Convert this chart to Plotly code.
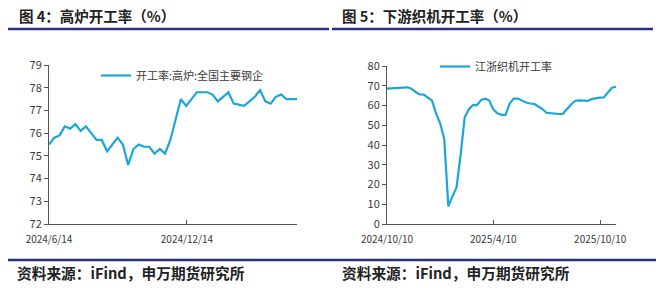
import plotly.graph_objects as go
import pandas as pd

# ---- data ----
bf_start = "2024-06-14"
bf_values = [75.5, 75.8, 75.9, 76.3, 76.2, 76.4, 76.1, 76.3, 76.0, 75.7, 75.7, 75.2,
             75.5, 75.8, 75.5, 74.6, 75.3, 75.5, 75.4, 75.4, 75.1, 75.3, 75.1, 75.7,
             76.6, 77.5, 77.2, 77.5, 77.8, 77.8, 77.8, 77.7, 77.4, 77.6, 77.8, 77.3,
             77.25, 77.2, 77.4, 77.6, 77.9, 77.4, 77.3, 77.6, 77.7, 77.5, 77.5, 77.5]
bf_ticks = ["2024-06-14", "2024-12-14"]
bf_ticktext = ["2024/6/14", "2024/12/14"]

loom_start = "2024-10-10"
loom_values = [68.5, 68.7, 68.8, 68.8, 69.2, 69.2, 68.5, 66.8, 65.6, 65.5, 64.0, 62.5,
               56.0, 51.0, 43.0, 9.0, 14.0, 18.5, 35.0, 54.0, 58.0, 60.2, 60.2, 62.8,
               63.5, 62.5, 58.0, 56.0, 55.3, 55.3, 61.0, 63.5, 63.5, 62.5, 61.5, 61.0,
               60.8, 59.5, 58.2, 56.3, 56.0, 55.7, 55.7, 55.8, 58.2, 60.5, 62.3, 62.6,
               62.5, 62.3, 63.2, 63.7, 64.0, 64.1, 66.5, 69.0, 69.5]
loom_ticks = ["2024-10-10", "2025-04-10", "2025-10-10"]
loom_ticktext = ["2024/10/10", "2025/4/10", "2025/10/10"]

bf_name = "开工率:高炉:全国主要钢企"
loom_name = "江浙织机开工率"
title_left = "图 4：高炉开工率（%）"
title_right = "图 5：下游织机开工率（%）"
source_text = "资料来源：iFind，申万期货研究所"

bf_dates = pd.date_range(bf_start, periods=len(bf_values), freq="7D")
loom_dates = pd.date_range(loom_start, periods=len(loom_values), freq="7D")

W, H = 660, 288
LINE = "#1ba6d9"
NAVY = "#25307f"
AXC = "#555555"
TXT = "#3a3a3a"
FONT = "Noto Sans CJK SC"

def px(x):
    return x / W

def py(y):
    return 1 - y / H

fig = go.Figure()
fig.add_trace(go.Scatter(x=bf_dates, y=bf_values, mode="lines", name=bf_name,
                         line=dict(color=LINE, width=2.2), xaxis="x", yaxis="y",
                         legend="legend"))
fig.add_trace(go.Scatter(x=loom_dates, y=loom_values, mode="lines", name=loom_name,
                         line=dict(color=LINE, width=2.2), xaxis="x2", yaxis="y2",
                         legend="legend2"))

axis_common = dict(showgrid=False, zeroline=False, showline=True, linecolor=AXC,
                   linewidth=1, tickcolor=AXC, ticklen=4, automargin=False)
xfont = dict(family=FONT, size=10, color=TXT)
yfont = dict(family=FONT, size=11, color=TXT)

fig.update_layout(
    width=W, height=H, margin=dict(l=0, r=0, t=0, b=0, autoexpand=False),
    paper_bgcolor="white", plot_bgcolor="white",
    font=dict(family=FONT, color=TXT),
    xaxis=dict(domain=[px(49), px(297)], anchor="y", type="date",
               range=[bf_dates[0], bf_dates[-1]], tickfont=xfont, ticklabelstandoff=6,
               tickvals=bf_ticks, ticktext=bf_ticktext, ticks="inside", **axis_common),
    yaxis=dict(domain=[py(224), py(65)], anchor="x", range=[72, 79], dtick=1,
               tickfont=yfont, ticks="outside", **axis_common),
    xaxis2=dict(domain=[px(387), px(616)], anchor="y2", type="date",
                range=[loom_dates[0], loom_dates[-1]], tickfont=xfont, ticklabelstandoff=6,
                tickvals=loom_ticks, ticktext=loom_ticktext, ticks="inside", **axis_common),
    yaxis2=dict(domain=[py(224), py(66)], anchor="x2", range=[0, 80], dtick=10,
                tickfont=yfont, ticks="outside", **axis_common),
    legend=dict(x=px(96), y=py(61), xanchor="left", yanchor="top", itemwidth=30,
                bgcolor="rgba(0,0,0,0)", font=dict(family=FONT, size=11, color=TXT)),
    legend2=dict(x=px(435), y=py(52), xanchor="left", yanchor="top", itemwidth=30,
                 bgcolor="rgba(0,0,0,0)", font=dict(family=FONT, size=11, color=TXT)),
    showlegend=True,
)

# titles
for x0, t in [(17, title_left), (340, title_right)]:
    fig.add_annotation(x=px(x0), y=py(15), xref="paper", yref="paper", text="<b>" + t + "</b>",
                       showarrow=False, xanchor="left", yanchor="middle",
                       font=dict(family=FONT, size=14.5, color="#222222"))
# source
for x0 in [15, 340]:
    fig.add_annotation(x=px(x0), y=py(272), xref="paper", yref="paper", text="<b>" + source_text + "</b>",
                       showarrow=False, xanchor="left", yanchor="middle",
                       font=dict(family=FONT, size=14.7, color="#222222"))

# divider lines
fig.add_shape(type="line", xref="paper", yref="paper", x0=px(8), x1=px(329), y0=py(29), y1=py(29),
              line=dict(color=NAVY, width=2.5))
fig.add_shape(type="line", xref="paper", yref="paper", x0=px(332), x1=px(653), y0=py(29), y1=py(29),
              line=dict(color=NAVY, width=2.5))
fig.add_shape(type="line", xref="paper", yref="paper", x0=px(8), x1=px(656), y0=py(260), y1=py(260),
              line=dict(color=NAVY, width=2.5))

fig.write_html("out.html")
